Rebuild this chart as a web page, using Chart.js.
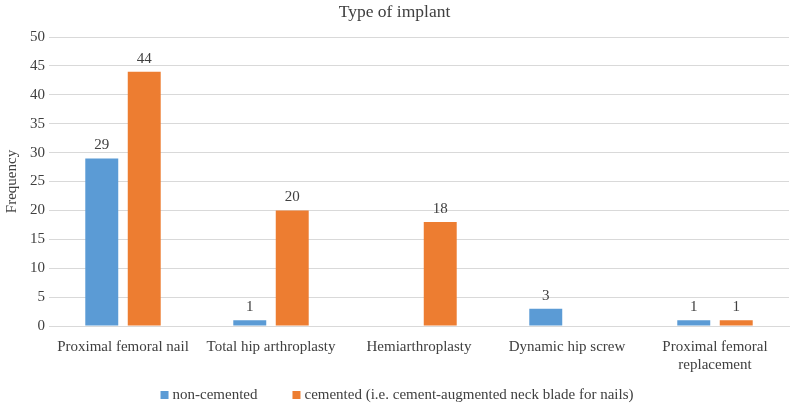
<!DOCTYPE html>
<html><head><meta charset="utf-8">
<script src="https://cdn.jsdelivr.net/npm/chart.js@4"></script>
<style>html,body{margin:0;padding:0;background:#fff}#wrap{width:798px;height:410px}</style>
</head><body><div id="wrap"><canvas id="c"></canvas></div>
<script>
const categories = ["Proximal femoral nail", "Total hip arthroplasty", "Hemiarthroplasty", "Dynamic hip screw", ["Proximal femoral", "replacement"]];
const nonCemented = [29, 1, null, 3, 1];
const cemented = [44, 20, 18, null, 1];
const seriesNames = ["non-cemented", "cemented (i.e. cement-augmented neck blade for nails)"];
const seriesColors = ['#5B9BD5', '#ED7D31'];
const FONT = "'Liberation Serif', serif";
const TXT = '#404040';

const labelPlugin = {
  id: 'valLabels',
  afterDatasetsDraw(chart) {
    const ctx = chart.ctx;
    ctx.save();
    ctx.font = "15px " + FONT;
    ctx.fillStyle = TXT;
    ctx.textAlign = 'center';
    ctx.textBaseline = 'middle';
    chart.data.datasets.forEach((ds, i) => {
      chart.getDatasetMeta(i).data.forEach((el, j) => {
        const v = ds.data[j];
        if (v === null || v === undefined) return;
        ctx.fillText(String(v), el.x, el.y - 13);
      });
    });
    ctx.restore();
  }
};

const legendPlugin = {
  id: 'customLegend',
  afterDraw(chart) {
    const ctx = chart.ctx;
    ctx.save();
    ctx.font = "15px " + FONT;
    ctx.textBaseline = 'middle';
    const box = 8, gap = 4, spacing = 35;
    const items = chart.data.datasets.map(d => ({ text: d.label, color: d.backgroundColor, w: ctx.measureText(d.label).width }));
    let total = 0;
    items.forEach((it, i) => { total += box + gap + it.w + (i ? spacing : 0); });
    let x = chart.width / 2 - 2 - total / 2;
    const y = 395;
    items.forEach((it) => {
      ctx.fillStyle = it.color;
      ctx.fillRect(x, y - box / 2, box, box);
      ctx.fillStyle = TXT;
      ctx.fillText(it.text, x + box + gap, y);
      x += box + gap + it.w + spacing;
    });
    ctx.restore();
  }
};

new Chart(document.getElementById('c'), {
  type: 'bar',
  data: {
    labels: categories,
    datasets: [
      { label: seriesNames[0], data: nonCemented, backgroundColor: seriesColors[0], categoryPercentage: 0.574, barPercentage: 0.776 },
      { label: seriesNames[1], data: cemented, backgroundColor: seriesColors[1], categoryPercentage: 0.574, barPercentage: 0.776 }
    ]
  },
  options: {
    responsive: true, maintainAspectRatio: false, animation: false,
    devicePixelRatio: 1,
    layout: { padding: { left: 0, right: 9, top: 0, bottom: 37 } },
    plugins: {
      title: { display: true, text: 'Type of implant', color: TXT, font: { family: FONT, size: 17.5, weight: 'normal' }, padding: { top: 2, bottom: 14 } },
      legend: { display: false },
      tooltip: { enabled: false }
    },
    scales: {
      x: {
        afterFit(scale) { scale.height = 47; },
        grid: { display: false },
        border: { color: '#d9d9d9' },
        ticks: { color: TXT, font: { family: FONT, size: 15 }, maxRotation: 0, autoSkip: false, padding: 4 }
      },
      y: {
        min: 0, max: 50,
        afterFit(scale) { scale.width = 49; },
        ticks: { stepSize: 5, color: TXT, font: { family: FONT, size: 15 }, padding: 4 },
        grid: { color: '#d9d9d9', drawTicks: false },
        border: { display: false },
        title: { display: true, text: 'Frequency', color: TXT, font: { family: FONT, size: 15 }, padding: 3 }
      }
    }
  },
  plugins: [labelPlugin, legendPlugin]
});
</script></body></html>
